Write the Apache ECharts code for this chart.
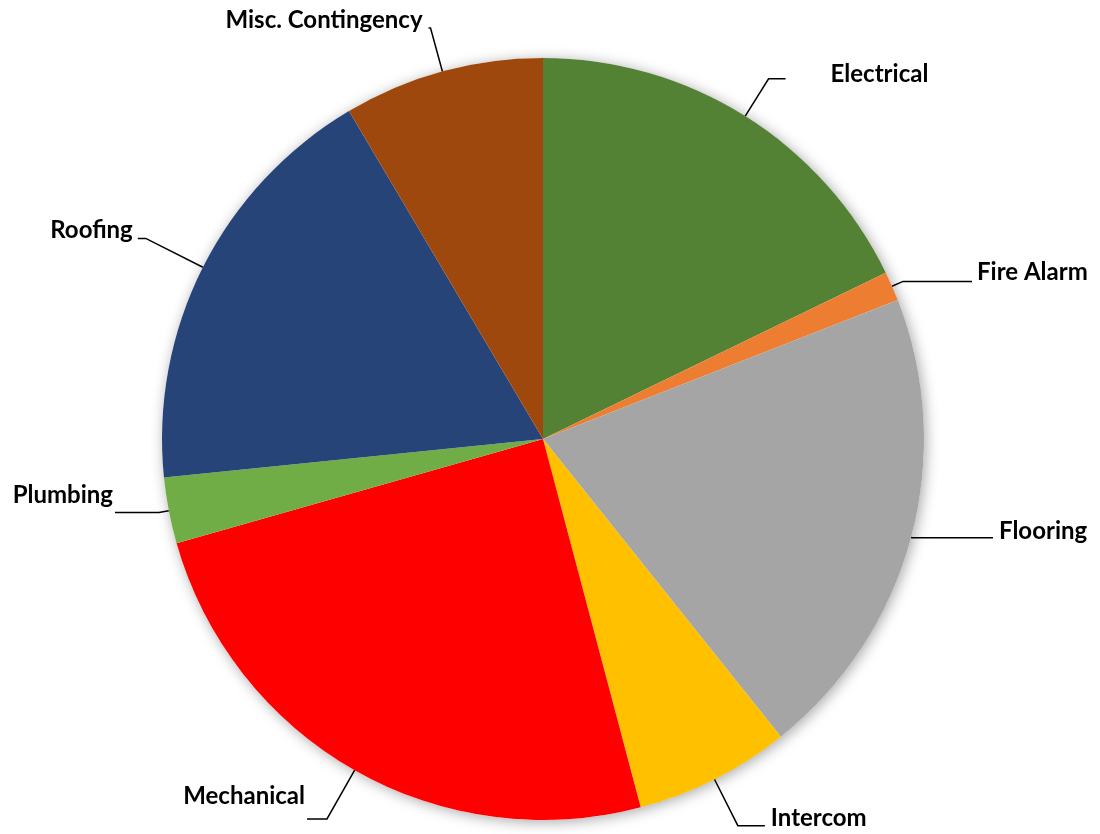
<!DOCTYPE html>
<html>
<head>
<meta charset="utf-8">
<title>Project Cost Breakdown</title>
<script src="https://cdn.jsdelivr.net/npm/echarts@6/dist/echarts.min.js"></script>
<style>
  html, body { margin: 0; padding: 0; background: #ffffff; }
  #chart { width: 1100px; height: 834px; }
</style>
</head>
<body>
<div id="chart"></div>
<script>
// Share of the budget per trade, in percent, clockwise from 12 o'clock
const categories = ['Electrical', 'Fire Alarm', 'Flooring', 'Intercom', 'Mechanical', 'Plumbing', 'Roofing', 'Misc. Contingency'];
const shares = [17.8, 1.25, 20.2, 6.6, 24.7, 2.8, 18.1, 8.5];
const sliceColors = ['#548235', '#ED7D31', '#A5A5A5', '#FFC000', '#FF0000', '#70AD47', '#264478', '#9E480E'];

// Leader line shape per label: radial length, horizontal tail, gap to text,
// and an empty spacer line under the name that lifts it above the line end
const leaders = {
  'Electrical':        { length: 44, length2: 17, gap: 45, lift: 10 },
  'Fire Alarm':        { length: 12, length2: 69, gap: 5,  lift: 18 },
  'Flooring':          { length: 1,  length2: 81, gap: 6,  lift: 14 },
  'Intercom':          { length: 52, length2: 27, gap: 6,  lift: 15 },
  'Mechanical':        { length: 56, length2: 20, gap: 2,  lift: 46 },
  'Plumbing':          { length: 10, length2: 44, gap: 2,  lift: 35 },
  'Roofing':           { length: 64, length2: 8,  gap: 5,  lift: 17 },
  'Misc. Contingency': { length: 45, length2: 2,  gap: 6,  lift: 16 }
};

const slices = categories.map((name, i) => {
  const l = leaders[name];
  return {
    name: name,
    value: shares[i],
    itemStyle: { color: sliceColors[i] },
    label: {
      distanceToLabelLine: l.gap,
      formatter: '{b}\n{lift| }',
      rich: { lift: { fontSize: 1, height: l.lift, lineHeight: l.lift } }
    },
    labelLine: { length: l.length, length2: l.length2 }
  };
});

const total = shares.reduce((a, b) => a + b, 0);

const chart = echarts.init(document.getElementById('chart'), null, { renderer: 'canvas' });
chart.setOption({
  backgroundColor: '#ffffff',
  animation: false,
  series: [
    {
      // soft drop shadow under the whole pie
      type: 'pie',
      silent: true,
      z: 1,
      center: [543, 439],
      radius: 381,
      label: { show: false },
      labelLine: { show: false },
      itemStyle: {
        color: '#ffffff',
        shadowBlur: 14,
        shadowColor: 'rgba(0,0,0,0.35)',
        shadowOffsetX: 2,
        shadowOffsetY: 2
      },
      data: [{ value: total, name: 'all' }]
    },
    {
      type: 'pie',
      z: 2,
      center: [543, 439],
      radius: 381,
      startAngle: 90,
      clockwise: true,
      avoidLabelOverlap: false,
      emphasis: { disabled: true },
      itemStyle: { borderWidth: 0 },
      label: {
        show: true,
        position: 'outside',
        color: '#000000',
        fontFamily: 'Lato',
        fontWeight: 'bold',
        fontSize: 24,
        lineHeight: 28
      },
      labelLine: {
        show: true,
        smooth: false,
        lineStyle: { color: '#000000', width: 1.5 }
      },
      data: slices
    }
  ]
});
</script>
</body>
</html>
